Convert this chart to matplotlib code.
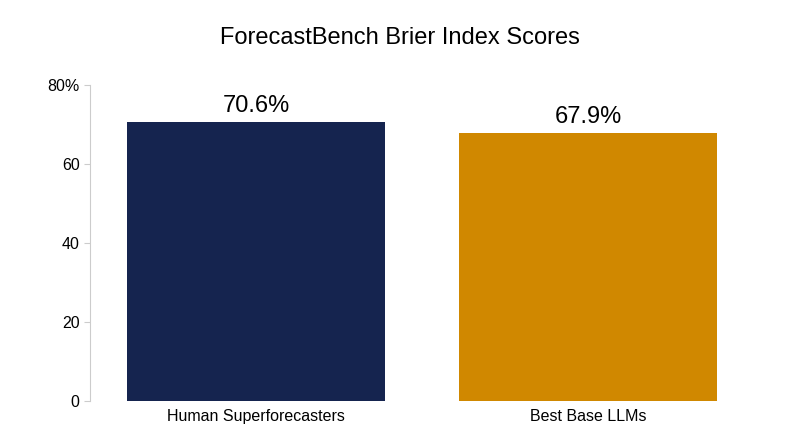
import matplotlib.pyplot as plt

categories = ["Human Superforecasters", "Best Base LLMs"]
scores = [70.6, 67.9]
bar_colors = ["#15244f", "#d08800"]
ytick_values = [0, 20, 40, 60, 80]
ytick_labels = ["0", "20", "40", "60", "80%"]

plt.rcParams["font.family"] = ["Liberation Sans", "DejaVu Sans"]

fig = plt.figure(figsize=(8, 4.47), dpi=100)
ax = fig.add_axes([0.1125, 0.103, 0.83, 0.707])

positions = range(len(categories))
ax.bar(positions, scores, width=0.777, color=bar_colors)
for x, v in zip(positions, scores):
    ax.text(x, v + 1.2, f"{v}%", ha="center", va="bottom", fontsize=17)

ax.set_xlim(-0.5, 1.5)
ax.set_ylim(0, 80)
ax.set_xticks(list(positions))
ax.set_xticklabels(categories, fontsize=11.5)
ax.set_yticks(ytick_values)
ax.set_yticklabels(ytick_labels, fontsize=11.5)
ax.tick_params(axis="x", length=0, pad=6)
ax.tick_params(axis="y", length=4, color="#cccccc")
for side in ["top", "right", "bottom"]:
    ax.spines[side].set_visible(False)
ax.spines["left"].set_color("#cccccc")

fig.text(0.5, 0.915, "ForecastBench Brier Index Scores", ha="center", va="center", fontsize=17)

fig.savefig("out.png", dpi=100)
